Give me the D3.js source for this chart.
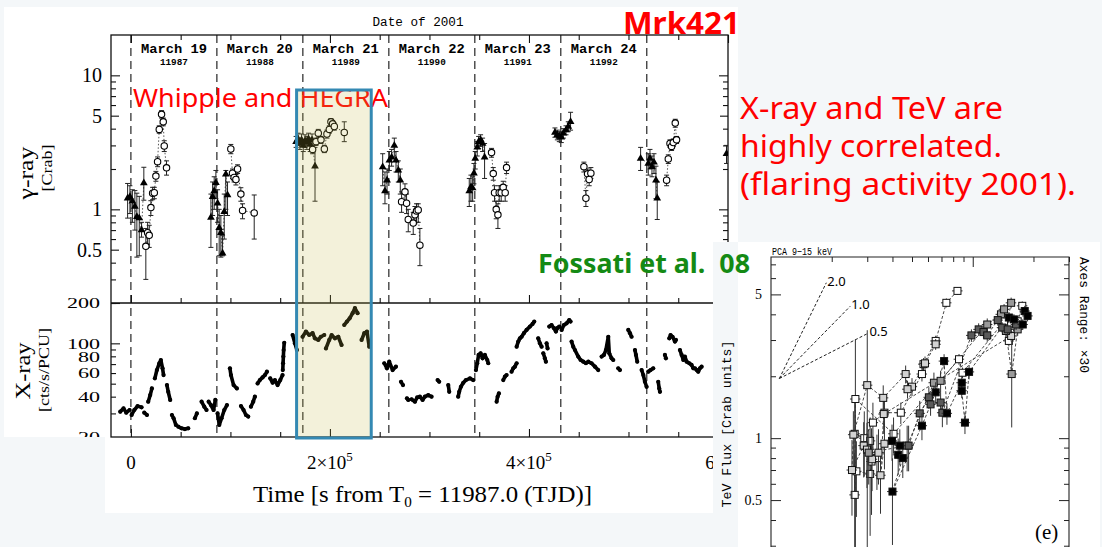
<!DOCTYPE html>
<html>
<head>
<meta charset="utf-8">
<script src="https://cdn.jsdelivr.net/npm/d3@7"></script>
<style>
  body { margin: 0; background: #f4f7f9; }
  svg { display: block; }
</style>
</head>
<body>
<svg id="chart" width="1102" height="547"></svg>
<script>
// ---------- data ----------
const days = [0, 1, 2, 3, 4, 5, 6];                       // day boundaries, in days from T0
const dayNames = ['March 19', 'March 20', 'March 21', 'March 22', 'March 23', 'March 24'];
const dayTJD = ['11987', '11988', '11989', '11990', '11991', '11992'];

// TeV light curve: [t (s), flux (Crab), low, high]
const hegra = [
  [-3300, 1.21, 0.86, 1.56], [-1000, 1.24, 0.93, 1.50], [1500, 1.15, 0.80, 1.40], [4000, 1.05, 0.70, 1.38],
  [6000, 0.88, 0.44, 1.32], [8400, 0.86, 0.45, 1.25], [10700, 0.70, 0.62, 0.80], [13000, 1.57, 1.17, 2.06],
  [80400, 0.87, 0.52, 1.30], [82100, 1.24, 0.90, 1.60], [83700, 1.37, 1.00, 1.75], [85400, 1.58, 1.20, 1.95],
  [87100, 1.11, 0.80, 1.40], [88700, 0.73, 0.45, 1.00], [90400, 0.67, 0.44, 0.90], [92100, 0.47, 0.45, 0.64],
  [93800, 0.96, 0.60, 1.30], [95400, 1.83, 1.00, 1.95], [97100, 1.28, 0.90, 1.60],
  [166000, 3.20, 2.90, 3.50], [168000, 3.35, 3.00, 3.70], [169800, 3.10, 2.80, 3.40], [171500, 3.30, 2.95, 3.65],
  [173200, 3.00, 2.70, 3.30], [175000, 3.25, 2.90, 3.60], [176800, 3.15, 2.80, 3.50], [178500, 3.35, 3.00, 3.70],
  [180200, 3.05, 2.70, 3.40], [182000, 3.30, 2.95, 3.65], [185000, 2.10, 1.15, 2.90],
  [253000, 2.07, 1.50, 2.60], [255300, 1.37, 1.10, 1.90], [257400, 1.65, 1.30, 2.00], [259700, 2.32, 1.95, 2.70],
  [262000, 2.45, 2.10, 2.80], [264700, 3.00, 2.45, 3.40], [266400, 2.32, 1.90, 2.70], [268700, 1.96, 1.60, 2.30],
  [270700, 1.65, 1.30, 2.00],
  [340000, 1.37, 1.05, 1.70], [341700, 1.47, 1.15, 1.80], [343400, 1.44, 1.15, 1.75], [344700, 1.86, 1.55, 2.20],
  [346000, 2.40, 2.00, 2.70], [348000, 2.90, 2.50, 3.20], [349400, 3.20, 2.85, 3.50], [351400, 3.30, 2.95, 3.60],
  [353400, 3.10, 2.70, 3.40], [355400, 2.45, 1.70, 3.10],
  [426100, 3.75, 3.45, 4.05], [428500, 3.60, 3.30, 3.90], [430500, 3.50, 3.20, 3.80], [432500, 3.45, 3.15, 3.75],
  [434500, 3.70, 3.40, 4.00], [437200, 3.90, 3.60, 4.20], [439500, 4.15, 3.80, 4.50], [441800, 4.50, 3.90, 5.30],
  [512200, 2.40, 1.95, 2.90], [519900, 2.20, 1.80, 2.60], [521600, 2.40, 2.00, 2.80], [523600, 2.08, 1.75, 2.50],
  [525600, 2.25, 1.85, 2.60], [527600, 1.65, 1.20, 2.10], [528900, 1.21, 0.84, 1.60],
  [598500, 2.60, 2.20, 3.00]
];
const whipple = [
  [15000, 0.53, 0.30, 0.72], [16800, 0.67, 0.55, 0.80], [18400, 0.64, 0.52, 0.76], [20100, 1.03, 0.90, 1.16],
  [21800, 1.32, 1.18, 1.46], [23500, 1.33, 1.20, 1.46], [25100, 1.77, 1.62, 1.92], [26800, 2.27, 2.08, 2.46],
  [28500, 3.95, 3.70, 4.20], [30800, 5.12, 4.80, 5.45], [32500, 4.50, 4.20, 4.80], [33500, 2.97, 2.70, 3.25],
  [35800, 2.04, 1.80, 2.30],
  [100400, 2.82, 2.60, 3.05], [102100, 1.86, 1.70, 2.00], [103700, 1.73, 1.60, 1.86], [105500, 1.67, 1.52, 1.82],
  [107200, 2.00, 1.85, 2.15], [110500, 1.30, 1.15, 1.45], [112200, 0.98, 0.85, 1.10], [123900, 0.94, 0.60, 1.28],
  [182600, 2.80, 2.60, 3.00], [186000, 3.20, 3.00, 3.40], [188300, 3.70, 3.45, 3.95], [191000, 3.30, 3.10, 3.50],
  [194400, 2.82, 2.65, 3.00], [197000, 3.65, 3.40, 3.90], [199400, 3.95, 3.70, 4.20], [201000, 4.50, 4.25, 4.75],
  [202700, 4.35, 4.10, 4.60], [204400, 4.15, 3.90, 4.40], [214400, 3.75, 3.20, 4.50],
  [272000, 1.14, 0.95, 1.35], [275400, 1.35, 1.15, 1.55], [277000, 1.11, 0.93, 1.30], [278700, 0.84, 0.68, 1.00],
  [283700, 0.79, 0.65, 0.95], [285400, 0.91, 0.78, 1.05], [287000, 0.97, 0.80, 1.10], [288700, 0.99, 0.80, 1.10],
  [290400, 0.54, 0.38, 0.72],
  [362400, 2.65, 2.45, 2.85], [364100, 1.85, 1.65, 2.05], [365400, 1.33, 1.15, 1.50], [367100, 1.00, 0.85, 1.15],
  [368800, 0.91, 0.72, 1.10], [370100, 1.33, 1.15, 1.50], [372100, 1.33, 1.15, 1.50], [374100, 1.46, 1.30, 1.62],
  [376100, 1.33, 1.15, 1.50], [377500, 2.05, 1.85, 2.25],
  [455200, 2.08, 1.90, 2.25], [457200, 1.21, 1.05, 1.38], [458900, 1.84, 1.65, 2.00], [460500, 1.67, 1.50, 1.85],
  [462200, 1.86, 1.70, 2.05],
  [538300, 1.65, 1.50, 1.80], [540000, 2.38, 2.20, 2.55], [541700, 3.10, 2.90, 3.30], [543300, 2.95, 2.75, 3.15],
  [545000, 3.15, 2.95, 3.35], [547000, 4.40, 4.10, 4.70], [548300, 3.30, 3.10, 3.50]
];

// RXTE light curve, one array per orbit: [t (ks), rate (cts/s/PCU)]
const xraySegs = [
  [[-10.7, 30.9], [-7.4, 32.7], [-4.7, 30.4], [-1.3, 31.8]],
  [[0.7, 29.2], [3.4, 31.8], [6.7, 34.0], [10.7, 33.3]],
  [[13.4, 30.4], [16.1, 29.2]],
  [[17.4, 36.7], [19.4, 41.1], [21.1, 46.1]],
  [[24.1, 54.8], [26.1, 63.2], [28.5, 71.0], [30.1, 75.1], [31.8, 65.1], [32.8, 58.0]],
  [[36.2, 48.8], [37.5, 43.5], [39.5, 37.8]],
  [[41.2, 29.2], [42.9, 27.6], [45.2, 24.6]],
  [[47.6, 23.9], [50.9, 23.2], [54.3, 22.9], [57.6, 23.2]],
  [[64.3, 27.6], [66.3, 30.0]],
  [[71.0, 36.7], [73.7, 33.7], [76.0, 31.8]],
  [[78.1, 36.7], [80.4, 34.6], [83.1, 31.8], [84.8, 37.8]],
  [[87.1, 30.0], [88.8, 24.6], [91.1, 27.6], [93.8, 31.8], [96.5, 34.6]],
  [[99.5, 65.1], [100.5, 58.0], [103.2, 48.8], [106.5, 46.1]],
  [[110.6, 34.0], [113.2, 31.8], [115.6, 29.2], [117.9, 28.4]],
  [[120.6, 33.7], [122.9, 36.7], [124.6, 40.0]],
  [[127.3, 50.2], [129.6, 53.2], [132.3, 55.7], [134.7, 58.0], [136.7, 61.4]],
  [[140.0, 54.8], [142.4, 50.8], [144.7, 53.2], [147.4, 48.8], [150.1, 53.2], [152.4, 58.0]],
  [[152.6, 63.2], [152.9, 71.0], [153.2, 79.6], [153.5, 89.1], [154.1, 101]],
  [[162.5, 115.4], [164.8, 100], [166.8, 89.1]],
  [[172.5, 112], [175.9, 122.5], [179.2, 115.4], [182.6, 119], [184.9, 109], [188.3, 106], [190.9, 112], [194.3, 115.4]],
  [[196.0, 91.7], [199.3, 106], [201.7, 115.4], [205.0, 109], [208.4, 112], [211.7, 97.2]],
  [[214.4, 137.1], [217.1, 145.3], [219.8, 153.8], [222.8, 168], [225.1, 183.2], [227.8, 168]],
  [[231.8, 106], [234.5, 119], [237.2, 122.5], [239.5, 94.4]],
  [[254.6, 71.0], [257.3, 65.1], [259.6, 73.0], [263.0, 63.2], [266.3, 67.0]],
  [[271.4, 51.7], [273.4, 48.8]],
  [[277.4, 38.9], [278.7, 37.8]],
  [[282.0, 38.2], [285.4, 36.7], [287.7, 39.5], [290.4, 40.0], [293.1, 37.8], [295.4, 40.0], [298.8, 41.1], [302.1, 40.0]],
  [[308.2, 53.2], [309.8, 51.7]],
  [[318.9, 48.8], [319.9, 43.5]],
  [[328.9, 40.0], [329.9, 43.5], [331.6, 47.4], [334.0, 50.8], [336.6, 53.2], [340.7, 54.8], [344.0, 53.2]],
  [[346.7, 63.2], [348.0, 71.0], [349.4, 81.9], [351.4, 84.3], [353.4, 77.3], [355.7, 81.9], [358.1, 75.1], [359.1, 71.0]],
  [[367.5, 36.7], [368.5, 40.0], [369.8, 42.3]],
  [[374.2, 53.2], [375.8, 56.4], [377.5, 58.0]],
  [[382.5, 61.4], [384.2, 65.1], [385.9, 67.0], [387.6, 71.0]],
  [[387.6, 94.4], [389.2, 103], [390.9, 109], [392.6, 112], [394.9, 119], [397.6, 126], [401.0, 133.4], [403.6, 139.6], [405.3, 145.3]],
  [[409.3, 109], [411.0, 100], [412.7, 94.4]],
  [[414.4, 84.3], [416.0, 77.3], [417.0, 73.0]],
  [[417.7, 100], [418.7, 91.7]],
  [[420.4, 133.4], [422.7, 137.1], [425.1, 129.7], [427.1, 122.5], [428.4, 129.7], [430.4, 133.4]],
  [[432.8, 126], [435.1, 137.1], [437.8, 141], [440.5, 149.4], [441.8, 145.3]],
  [[442.8, 103], [444.5, 94.4], [446.2, 89.1], [449.5, 79.6], [451.9, 75.1], [454.6, 73.0], [457.2, 71.0], [459.6, 73.0], [462.9, 71.0], [466.3, 67.0], [469.6, 63.2]],
  [[473.0, 79.6], [475.3, 81.9], [477.3, 89.1], [479.7, 112], [480.7, 84.3], [483.0, 77.3], [484.7, 75.1]],
  [[489.7, 65.1], [491.4, 63.2]],
  [[499.8, 126], [501.5, 119], [503.1, 112]],
  [[506.5, 89.1], [507.5, 81.9], [508.8, 73.0]],
  [[513.2, 63.2], [514.9, 58.0], [516.5, 51.7], [518.2, 47.4]],
  [[519.9, 61.4], [522.2, 63.2], [524.9, 65.1]],
  [[529.9, 51.7], [530.9, 46.1], [531.6, 43.5]],
  [[536.6, 81.9], [537.6, 77.3]],
  [[541.0, 109], [542.3, 115.4], [544.3, 112], [546.7, 103], [547.7, 106]],
  [[551.7, 89.1], [553.4, 81.9], [555.1, 75.1], [556.7, 79.6], [558.4, 73.0], [561.1, 71.0], [563.4, 69.0], [565.1, 65.1], [566.8, 65.1], [568.5, 63.2], [570.1, 61.4], [571.8, 65.1], [573.5, 67.0]]
];

// Fossati et al. panel (e): [PCA 9-15 keV rate, TeV flux (Crab), fractional error], by symbol shade
const pcaWhite = [
  [8.4, 5.2, 0.04], [7.4, 4.55, 0.05], [6.55, 2.97, 0.06], [5.7, 2.29, 0.07], [5.6, 2.05, 0.08], [4.4, 1.33, 0.12],
  [3.65, 1.33, 0.15], [3.2, 1.19, 0.25], [2.9, 1.0, 0.35], [2.6, 1.05, 0.5], [3.1, 0.97, 0.3], [3.35, 0.8, 0.3],
  [3.15, 0.77, 0.45], [3.1, 0.67, 0.5], [2.65, 0.69, 0.4], [2.6, 0.53, 0.6], [2.62, 1.55, 0.95], [4.05, 1.05, 0.2],
  [8.55, 2.42, 0.06], [8.9, 2.08, 0.06], [14.3, 3.7, 0.06], [15.1, 2.97, 0.06], [16.7, 3.7, 0.06], [17.6, 4.4, 0.05]
];
const pcaLight = [
  [6.55, 2.86, 0.06], [5.8, 2.31, 0.08], [5.0, 1.78, 0.1], [4.75, 1.73, 0.1], [4.65, 2.05, 0.1], [3.6, 1.57, 0.15],
  [3.0, 1.81, 0.85], [2.56, 1.04, 0.3], [2.52, 0.70, 0.4], [2.88, 0.92, 0.3], [2.99, 0.88, 0.35], [3.17, 0.79, 0.3],
  [3.41, 0.85, 0.3], [3.65, 0.94, 0.25], [3.49, 0.66, 0.35], [3.62, 1.31, 0.2], [15.5, 3.14, 0.06]
];
const pcaGray = [
  [3.05, 0.85, 0.3], [4.73, 0.92, 0.25], [6.42, 1.86, 0.12], [6.93, 1.90, 0.12], [11.8, 3.57, 0.07], [13.8, 4.0, 0.06],
  [14.3, 4.23, 0.06], [15.5, 4.55, 0.06], [14.6, 3.32, 0.07], [15.6, 2.05, 0.45], [16.7, 3.38, 0.07]
];
const pcaDark = [
  [4.81, 0.92, 0.25], [5.46, 1.32, 0.15], [6.06, 1.58, 0.12], [6.18, 1.46, 0.12], [6.93, 1.49, 0.12], [7.07, 1.33, 0.15],
  [9.85, 3.16, 0.07], [10.7, 3.38, 0.07], [11.3, 3.28, 0.07], [11.8, 3.16, 0.07], [13.3, 3.75, 0.06], [14.0, 3.45, 0.06],
  [14.9, 3.38, 0.06], [16.4, 3.57, 0.06]
];
const pcaBlack = [
  [3.98, 0.97, 0.2], [4.35, 0.92, 0.2], [4.27, 0.83, 0.2], [4.5, 0.80, 0.2], [4.0, 0.55, 0.45], [5.6, 1.15, 0.15],
  [6.55, 1.67, 0.12], [7.21, 2.37, 0.08], [7.45, 1.32, 0.12], [8.82, 1.86, 0.08], [8.82, 1.70, 0.08], [9.15, 1.19, 0.12],
  [9.59, 2.10, 0.08], [15.1, 3.86, 0.06], [16.0, 3.78, 0.06], [18.1, 4.15, 0.06], [18.7, 3.93, 0.06], [17.7, 3.57, 0.06]
];
const pcaGroups = [
  { pts: pcaWhite, fill: '#ffffff' },
  { pts: pcaLight, fill: '#d2d2d2' },
  { pts: pcaGray, fill: '#9a9a9a' },
  { pts: pcaDark, fill: '#5a5a5a' },
  { pts: pcaBlack, fill: '#000000' }
];
const pcaXErr = 0.06;
// slope guides: origin and end of each power-law line
const slopeOrigin = [1.1, 1.95];
const slopes = [2.0, 1.0, 0.5];
const slopeEndX = [1.88, 2.47, 3.04];
const slopeLabels = ['2.0', '1.0', '0.5'];

// ---------- drawing ----------
const svg = d3.select('#chart');
const bg = '#f4f7f9';
const mono = "'Liberation Mono', monospace";
const serif = "'Liberation Serif', serif";
const sans = "'Noto Sans', sans-serif";

svg.append('rect').attr('width', 1102).attr('height', 547).attr('fill', bg);
svg.append('rect').attr('x', 4).attr('y', 7).attr('width', 734).attr('height', 506).attr('fill', '#fff');

const x = d3.scaleLinear().domain([-2e4, 6e5]).range([111, 728]);
const yG = d3.scaleLog().domain([0.2, 20]).range([303, 35]);
const yX = d3.scaleLog().domain([20, 200]).range([437, 303]);

const defs = svg.append('defs');
defs.append('clipPath').attr('id', 'clipTop').append('rect')
  .attr('x', 111).attr('y', 35).attr('width', 617).attr('height', 268);
defs.append('clipPath').attr('id', 'clipBot').append('rect')
  .attr('x', 111).attr('y', 303).attr('width', 617).attr('height', 134);

const main = svg.append('g');

// ticks (inward), drawn with d3 axes
function ticks(gen, scale, vals, size, tx, ty) {
  const g = main.append('g').attr('transform', `translate(${tx},${ty})`)
    .call(gen(scale).tickValues(vals).tickSize(size).tickSizeOuter(0).tickFormat(''));
  g.select('.domain').remove();
  g.selectAll('line').attr('stroke', '#111').attr('stroke-width', 1.1);
}
const xMajor = [0, 2e5, 4e5, 6e5];
const xMinor = [5e4, 1e5, 1.5e5, 2.5e5, 3e5, 3.5e5, 4.5e5, 5e5, 5.5e5];
ticks(d3.axisTop, x, xMajor, -8, 0, 35);
ticks(d3.axisTop, x, xMinor, -5, 0, 35);
ticks(d3.axisBottom, x, xMajor, -8, 0, 303);
ticks(d3.axisBottom, x, xMinor, -5, 0, 303);
ticks(d3.axisBottom, x, xMajor, -8, 0, 437);
ticks(d3.axisBottom, x, xMinor, -5, 0, 437);

const gMajor = [1, 10], gMid = [0.5, 5], gMinor = [0.2, 0.3, 0.4, 0.6, 0.7, 0.8, 0.9, 2, 3, 4, 6, 7, 8, 9];
ticks(d3.axisLeft, yG, gMajor, -9, 111, 0);
ticks(d3.axisLeft, yG, gMid, -8, 111, 0);
ticks(d3.axisLeft, yG, gMinor, -5, 111, 0);
ticks(d3.axisRight, yG, gMajor, -9, 728, 0);
ticks(d3.axisRight, yG, gMid, -8, 728, 0);
ticks(d3.axisRight, yG, gMinor, -5, 728, 0);
const xrMajor = [100, 200], xrMinor = [30, 40, 50, 60, 70, 80, 90];
ticks(d3.axisLeft, yX, xrMajor, -9, 111, 0);
ticks(d3.axisLeft, yX, xrMinor, -5, 111, 0);
ticks(d3.axisRight, yX, xrMajor, -9, 728, 0);
ticks(d3.axisRight, yX, xrMinor, -5, 728, 0);

// frame
main.append('rect').attr('x', 111).attr('y', 35).attr('width', 617).attr('height', 402)
  .attr('fill', 'none').attr('stroke', '#111').attr('stroke-width', 1.3);
main.append('line').attr('x1', 111).attr('x2', 728).attr('y1', 303).attr('y2', 303)
  .attr('stroke', '#111').attr('stroke-width', 1.3);

// day boundaries
main.selectAll('line.day').data(days).join('line').attr('class', 'day')
  .attr('x1', d => x(d * 86400)).attr('x2', d => x(d * 86400))
  .attr('y1', 35).attr('y2', 437)
  .attr('stroke', '#111').attr('stroke-width', 1.1).attr('stroke-dasharray', '8,5');

// date labels
main.selectAll('text.day').data(dayNames).join('text').attr('class', 'day')
  .attr('x', (d, i) => x((i + 0.5) * 86400)).attr('y', 53)
  .attr('text-anchor', 'middle').attr('font-family', mono).attr('font-weight', 'bold')
  .attr('font-size', 13.5).attr('textLength', 66).attr('lengthAdjust', 'spacingAndGlyphs')
  .text(d => d);
main.selectAll('text.tjd').data(dayTJD).join('text').attr('class', 'tjd')
  .attr('x', (d, i) => x((i + 0.5) * 86400)).attr('y', 65)
  .attr('text-anchor', 'middle').attr('font-family', mono).attr('font-weight', 'bold')
  .attr('font-size', 9.5).attr('textLength', 28).attr('lengthAdjust', 'spacingAndGlyphs')
  .text(d => d);
main.append('text').attr('x', 418).attr('y', 26).attr('text-anchor', 'middle')
  .attr('font-family', mono).attr('font-size', 12.5).attr('textLength', 91)
  .attr('lengthAdjust', 'spacingAndGlyphs').text('Date of 2001');

// y tick labels
const gLabels = [[10, '10'], [5, '5'], [1, '1'], [0.5, '0.5']];
main.selectAll('text.gl').data(gLabels).join('text').attr('class', 'gl')
  .attr('x', 102).attr('y', d => yG(d[0])).attr('dy', '0.35em')
  .attr('text-anchor', 'end').attr('font-family', serif).attr('font-size', 20)
  .text(d => d[1]);
const xrLabels = [[200, '200'], [100, '100'], [80, '80'], [60, '60'], [40, '40'], [20, '20']];
main.selectAll('text.xl').data(xrLabels).join('text').attr('class', 'xl')
  .attr('x', 100).attr('y', d => yX(d[0])).attr('dy', '0.36em')
  .attr('text-anchor', 'end').attr('font-family', serif).attr('font-size', 14.5)
  .attr('textLength', d => d[1].length * 11).attr('lengthAdjust', 'spacingAndGlyphs')
  .text(d => d[1]);

// x tick labels
xMajor.forEach(v => {
  const t = main.append('text').attr('x', x(v)).attr('y', 469).attr('text-anchor', 'middle')
    .attr('font-family', serif).attr('font-size', 19);
  if (v === 0) { t.text('0'); return; }
  t.append('tspan').text(`${v / 1e5}×10`);
  t.append('tspan').attr('dy', -8).attr('font-size', 13).text('5');
});
const xt = main.append('text').attr('x', 253).attr('y', 502).attr('font-family', serif)
  .attr('font-size', 23).attr('textLength', 339).attr('lengthAdjust', 'spacingAndGlyphs');
xt.append('tspan').text('Time [s from T');
xt.append('tspan').attr('dy', 5).attr('font-size', 14).text('0');
xt.append('tspan').attr('dy', -5).text(' = 11987.0 (TJD)]');

// y titles
function vtitle(txt, cx, cy, size, len) {
  main.append('text').attr('transform', `translate(${cx},${cy}) rotate(-90)`)
    .attr('text-anchor', 'middle').attr('dominant-baseline', 'central')
    .attr('font-family', serif).attr('font-size', size)
    .attr('textLength', len).attr('lengthAdjust', 'spacingAndGlyphs').text(txt);
}
vtitle('γ-ray', 26, 173, 21, 53);
vtitle('[Crab]', 47, 168, 15, 47);
vtitle('X-ray', 23, 371, 21, 57);
vtitle('[cts/s/PCU]', 44, 370, 14, 84);

// TeV light curve
const gTev = main.append('g').attr('clip-path', 'url(#clipTop)');
function nights(arr) {
  const out = [];
  arr.forEach((d, i) => {
    if (i === 0 || d[0] - arr[i - 1][0] > 15000) out.push([]);
    out[out.length - 1].push(d);
  });
  return out;
}
const lineT = d3.line().x(d => x(d[0])).y(d => yG(d[1]));
[hegra, whipple].forEach(arr => {
  gTev.append('g').selectAll('path').data(nights(arr)).join('path')
    .attr('d', lineT).attr('fill', 'none').attr('stroke', '#555')
    .attr('stroke-width', 1).attr('stroke-dasharray', '1.5,2');
  gTev.append('g').selectAll('line').data(arr).join('line')
    .attr('x1', d => x(d[0])).attr('x2', d => x(d[0]))
    .attr('y1', d => yG(d[2])).attr('y2', d => yG(d[3]))
    .attr('stroke', '#222').attr('stroke-width', 1);
  gTev.append('g').selectAll('line').data(arr.flatMap(d => [[d[0], d[2]], [d[0], d[3]]])).join('line')
    .attr('x1', d => x(d[0]) - 2.5).attr('x2', d => x(d[0]) + 2.5)
    .attr('y1', d => yG(d[1])).attr('y2', d => yG(d[1]))
    .attr('stroke', '#222').attr('stroke-width', 1);
});
gTev.append('g').selectAll('path').data(hegra).join('path')
  .attr('transform', d => `translate(${x(d[0])},${yG(d[1])})`)
  .attr('d', d3.symbol(d3.symbolTriangle, 26)).attr('fill', '#000');
gTev.append('g').selectAll('circle').data(whipple).join('circle')
  .attr('cx', d => x(d[0])).attr('cy', d => yG(d[1])).attr('r', 3.2)
  .attr('fill', '#fff').attr('stroke', '#000').attr('stroke-width', 1.1);

// X-ray light curve
const gXr = main.append('g').attr('clip-path', 'url(#clipBot)');
const lineX = d3.line().x(d => x(d[0] * 1e3)).y(d => yX(d[1]));
gXr.append('g').selectAll('path').data(xraySegs).join('path')
  .attr('d', lineX).attr('fill', 'none').attr('stroke', '#000')
  .attr('stroke-width', 3.6).attr('stroke-linecap', 'round').attr('stroke-linejoin', 'round');
gXr.append('g').selectAll('circle').data(xraySegs.flat()).join('circle')
  .attr('cx', d => x(d[0] * 1e3)).attr('cy', d => yX(d[1])).attr('r', 2.1).attr('fill', '#000');

// annotations on the light curves
main.append('text').attr('x', 133).attr('y', 107).attr('font-family', sans)
  .attr('font-size', 25).attr('fill', '#ff0000').attr('textLength', 255)
  .attr('lengthAdjust', 'spacingAndGlyphs').text('Whipple and HEGRA');
const boxT = [1.665e5, 2.415e5];
main.append('rect').attr('x', x(boxT[0])).attr('y', 90)
  .attr('width', x(boxT[1]) - x(boxT[0])).attr('height', 348)
  .attr('fill', 'rgb(195,185,70)').attr('fill-opacity', 0.2)
  .attr('stroke', '#3489b3').attr('stroke-width', 3);

// parts of the slide that cover the figure
svg.append('rect').attr('x', 0).attr('y', 437).attr('width', 105).attr('height', 110).attr('fill', bg);
svg.append('rect').attr('x', 713).attr('y', 242).attr('width', 30).attr('height', 305).attr('fill', bg);

// ---------- inset panel (e) ----------
svg.append('rect').attr('x', 738).attr('y', 242).attr('width', 362).attr('height', 305).attr('fill', '#fff');
const px = d3.scaleLog().domain([1, 30]).range([771, 1069]);
const py = d3.scaleLog().domain([0.25, 7.6]).range([562, 257]);
defs.append('clipPath').attr('id', 'clipIn').append('rect')
  .attr('x', 771).attr('y', 257).attr('width', 298).attr('height', 290);
const ins = svg.append('g');

function iticks(gen, scale, vals, size, tx, ty) {
  const g = ins.append('g').attr('transform', `translate(${tx},${ty})`)
    .call(gen(scale).tickValues(vals).tickSize(size).tickSizeOuter(0).tickFormat(''));
  g.select('.domain').remove();
  g.selectAll('line').attr('stroke', '#222').attr('stroke-width', 1);
}
const iyMajor = [0.5, 1, 5], iyMinor = [0.3, 0.4, 0.6, 0.7, 0.8, 0.9, 2, 3, 4, 6, 7];
iticks(d3.axisLeft, py, iyMajor, -10, 771, 0);
iticks(d3.axisLeft, py, iyMinor, -5, 771, 0);
iticks(d3.axisRight, py, iyMajor, -10, 1069, 0);
iticks(d3.axisRight, py, iyMinor, -5, 1069, 0);
const ixMajor = [10], ixMinor = [2, 3, 4, 5, 6, 7, 8, 9, 20, 30];
iticks(d3.axisTop, px, ixMajor, -10, 0, 257);
iticks(d3.axisTop, px, ixMinor, -5, 0, 257);
ins.append('path').attr('d', 'M771,547V257H1069V547')
  .attr('fill', 'none').attr('stroke', '#222').attr('stroke-width', 1.1);

ins.selectAll('text.il').data([[5, '5'], [1, '1'], [0.5, '0.5']]).join('text').attr('class', 'il')
  .attr('x', 762).attr('y', d => py(d[0])).attr('dy', '0.35em').attr('text-anchor', 'end')
  .attr('font-family', serif).attr('font-size', 14).text(d => d[1]);
ins.append('text').attr('x', 772).attr('y', 255).attr('font-family', mono).attr('font-size', 11)
  .attr('textLength', 60).attr('lengthAdjust', 'spacingAndGlyphs').text('PCA 9−15 keV');
ins.append('text').attr('transform', 'translate(1083,257) rotate(90)')
  .attr('dominant-baseline', 'central').attr('font-family', mono).attr('font-size', 13)
  .attr('textLength', 116).attr('lengthAdjust', 'spacingAndGlyphs').text('Axes Range: ×30');
ins.append('text').attr('x', 1035).attr('y', 539).attr('font-family', serif).attr('font-size', 21)
  .text('(e)');

const pin = ins.append('g').attr('clip-path', 'url(#clipIn)');
// slope guides
slopes.forEach((s, i) => {
  const x1 = slopeEndX[i], y1 = slopeOrigin[1] * Math.pow(x1 / slopeOrigin[0], s);
  pin.append('line').attr('x1', px(slopeOrigin[0])).attr('y1', py(slopeOrigin[1]))
    .attr('x2', px(x1)).attr('y2', py(y1))
    .attr('stroke', '#222').attr('stroke-width', 1).attr('stroke-dasharray', '3,2');
  pin.append('text').attr('x', px(x1) + 1).attr('y', py(y1) + 3)
    .attr('font-family', sans).attr('font-size', 13).text(slopeLabels[i]);
});
const lineP = d3.line().x(d => px(d[0])).y(d => py(d[1]));
pcaGroups.forEach(g => {
  pin.append('path').attr('d', lineP(g.pts)).attr('fill', 'none').attr('stroke', '#333')
    .attr('stroke-width', 0.9).attr('stroke-dasharray', '3,2');
});
pcaGroups.forEach(g => {
  const e = pin.append('g').attr('stroke', '#333').attr('stroke-width', 1);
  e.append('g').selectAll('line').data(g.pts).join('line')
    .attr('x1', d => px(d[0])).attr('x2', d => px(d[0]))
    .attr('y1', d => py(d[1] * (1 + d[2]))).attr('y2', d => py(Math.max(d[1] * (1 - d[2]), 0.2)));
  e.append('g').selectAll('line').data(g.pts).join('line')
    .attr('x1', d => px(d[0] * (1 - pcaXErr))).attr('x2', d => px(d[0] * (1 + pcaXErr)))
    .attr('y1', d => py(d[1])).attr('y2', d => py(d[1]));
  pin.append('g').selectAll('rect').data(g.pts).join('rect')
    .attr('x', d => px(d[0]) - 3.5).attr('y', d => py(d[1]) - 3.5)
    .attr('width', 7).attr('height', 7)
    .attr('fill', g.fill).attr('stroke', '#111').attr('stroke-width', 1);
});

// ---------- slide texts ----------
svg.append('text').attr('transform', 'translate(727,424) rotate(-90)')
  .attr('text-anchor', 'middle').attr('dominant-baseline', 'central')
  .attr('font-family', mono).attr('font-size', 13).attr('textLength', 167)
  .attr('lengthAdjust', 'spacingAndGlyphs').text('TeV Flux [Crab units]');
svg.append('text').attr('x', 623).attr('y', 34).attr('font-family', sans).attr('font-weight', 'bold')
  .attr('font-size', 31).attr('fill', '#ff0000').attr('textLength', 117)
  .attr('lengthAdjust', 'spacingAndGlyphs').text('Mrk421');
svg.append('text').attr('x', 538).attr('y', 273).attr('font-family', sans).attr('font-weight', 'bold')
  .attr('font-size', 27).attr('fill', '#148a14').attr('textLength', 212)
  .attr('lengthAdjust', 'spacingAndGlyphs').attr('xml:space', 'preserve').text('Fossati et al.  08');
const note = [['X-ray and TeV are', 263], ['highly correlated.', 262], ['(flaring activity 2001).', 336]];
svg.selectAll('text.note').data(note).join('text').attr('class', 'note')
  .attr('x', 740).attr('y', (d, i) => 119 + i * 38).attr('font-family', sans)
  .attr('font-size', 30).attr('fill', '#ff0000').attr('textLength', d => d[1])
  .attr('lengthAdjust', 'spacingAndGlyphs').text(d => d[0]);
</script>
</body>
</html>
